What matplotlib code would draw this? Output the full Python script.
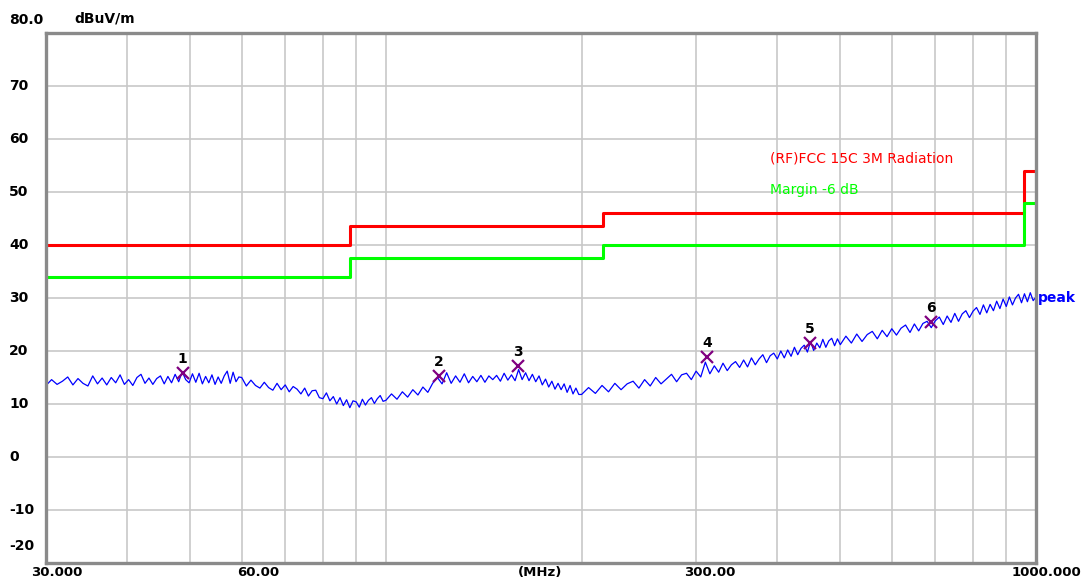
import numpy as np
import matplotlib
matplotlib.use('Agg')
import matplotlib.pyplot as plt
import matplotlib.transforms as mtransforms

plt.rcParams['font.family'] = ['DejaVu Sans']

# peak sweep (MHz, dBuV/m)
freq_a = [30.0, 30.6, 31.2, 31.8, 32.4, 33.0, 33.6, 34.2, 34.8, 35.4,
          36.0, 36.6, 37.2, 37.8, 38.4, 39.0, 39.6, 40.2, 40.8, 41.4,
          42.0, 42.6, 43.2, 43.8, 44.4, 45.0, 45.6, 46.2, 46.8, 47.4,
          48.0, 48.6, 49.2, 49.8, 50.4, 51.0, 51.6, 52.2, 52.8, 53.4,
          54.0, 54.6, 55.2, 55.8, 56.4, 57.0, 57.6, 58.2, 58.8, 59.4]
level_a = [13.5, 14.6, 13.7, 14.3, 15.1, 13.6, 14.8, 13.9, 13.4, 15.3,
           13.8, 14.9, 13.6, 15.0, 14.0, 15.5, 13.7, 14.6, 13.5, 15.0,
           15.6, 13.9, 14.9, 13.7, 14.8, 15.3, 13.8, 15.2, 14.0, 15.6,
           14.2, 16.1, 14.6, 14.0, 15.7, 14.1, 15.8, 13.8, 15.2, 14.0,
           15.5, 13.7, 15.1, 13.9, 15.3, 16.2, 13.9, 16.0, 14.2, 15.1]

freq_b = [60, 61, 62, 63, 64, 65, 66, 67, 68, 69,
          70, 71, 72, 73, 74, 75, 76, 77, 78, 79,
          80, 81, 82, 83, 84, 85, 86, 87, 88, 89,
          90, 91, 92, 93, 94, 95, 96, 97, 98, 99]
level_b = [15.0, 13.4, 14.5, 13.5, 13.0, 14.1, 13.1, 12.6, 13.9, 12.7,
           13.6, 12.3, 13.3, 12.8, 11.9, 13.0, 11.5, 12.5, 12.6, 11.2,
           11.0, 12.1, 10.6, 11.4, 10.0, 11.2, 9.7, 10.8, 9.3, 10.6,
           10.4, 9.4, 10.9, 9.8, 10.7, 11.2, 10.1, 11.0, 11.6, 10.5]

freq_c = [100, 102, 104, 106, 108, 110, 112, 114, 116, 118,
          120, 122, 124, 126, 128, 130, 132, 134, 136, 138,
          140, 142, 144, 146, 148, 150, 152, 154, 156, 158,
          160, 162, 164, 166, 168, 170, 172, 174, 176, 178,
          180, 182, 184, 186, 188, 190, 192, 194, 196, 198]
level_c = [10.7, 11.9, 10.9, 12.3, 11.3, 12.7, 11.7, 13.2, 12.2, 13.9,
           15.0, 13.8, 15.9, 13.9, 15.3, 14.1, 15.7, 14.0, 15.2, 14.2,
           15.4, 14.1, 15.3, 14.6, 15.4, 14.3, 15.8, 14.5, 15.5, 14.4,
           16.5, 14.6, 15.9, 14.4, 15.6, 14.2, 15.3, 13.6, 14.7, 13.2,
           14.3, 12.8, 13.9, 12.7, 13.8, 12.2, 13.5, 11.9, 13.0, 11.8]

freq_d = [200, 205, 210, 215, 220, 225, 230, 235, 240, 245,
          250, 255, 260, 265, 270, 275, 280, 285, 290, 295,
          300, 305, 310, 315, 320, 325, 330, 335, 340, 345,
          350, 355, 360, 365, 370, 375, 380, 385, 390, 395,
          400, 405, 410, 415, 420, 425, 430, 435, 440, 445,
          450, 455, 460, 465, 470, 475, 480, 485, 490, 495]
level_d = [11.8, 13.1, 12.0, 13.5, 12.3, 13.9, 12.7, 13.8, 14.3, 13.0,
           14.6, 13.4, 15.0, 13.8, 14.7, 15.6, 14.2, 15.5, 15.8, 14.6,
           16.2, 15.1, 17.9, 15.7, 17.2, 16.0, 17.7, 16.3, 17.4, 18.0,
           16.9, 18.3, 17.0, 18.7, 17.4, 18.5, 19.3, 17.8, 19.1, 19.6,
           18.5, 20.0, 18.7, 20.2, 19.0, 20.7, 19.3, 20.5, 21.1, 19.8,
           21.8, 20.1, 21.5, 20.6, 22.2, 20.7, 21.9, 22.4, 21.0, 22.3]

freq_e = [500, 510, 520, 530, 540, 550, 560, 570, 580, 590,
          600, 610, 620, 630, 640, 650, 660, 670, 680, 690,
          700, 710, 720, 730, 740, 750, 760, 770, 780, 790,
          800, 810, 820, 830, 840, 850, 860, 870, 880, 890,
          900, 910, 920, 930, 940, 950, 960, 970, 980, 990, 1000]
level_e = [21.2, 22.8, 21.5, 23.2, 21.8, 23.1, 23.7, 22.3, 23.9, 22.7,
           24.2, 23.0, 24.3, 24.9, 23.5, 25.1, 23.8, 25.2, 25.6, 24.4,
           25.7, 26.4, 25.0, 26.6, 25.4, 27.1, 25.6, 27.0, 27.6, 26.3,
           27.5, 28.2, 26.9, 28.7, 27.2, 28.8, 27.6, 29.4, 28.0, 29.8,
           28.4, 30.2, 28.7, 30.0, 30.7, 29.1, 30.8, 29.3, 31.0, 29.5, 30.2]

# FCC 15C 3m limit and -6 dB margin
limit_freq = [30, 88, 216, 960, 1000]
limit_level = [40.0, 43.5, 46.0, 54.0, 54.0]
margin_level = [34.0, 37.5, 40.0, 48.0, 48.0]

# marked peaks
mark_no = ['1', '2', '3', '4', '5', '6']
mark_freq = [48.7, 120.7, 159.7, 312.0, 449.0, 689.0]
mark_level = [15.9, 15.3, 17.2, 18.9, 21.5, 25.5]

y_ticks = [70, 60, 50, 40, 30, 20, 10, 0, -10]
x_grid = [40, 50, 60, 70, 80, 90, 100, 200, 300, 400, 500, 600, 700, 800, 900]

freq = freq_a + freq_b + freq_c + freq_d + freq_e
level = level_a + level_b + level_c + level_d + level_e

W, H = 1083, 580
fig = plt.figure(figsize=(W / 100, H / 100), dpi=100)
ax = fig.add_axes([46 / W, 1 - 563 / H, 990 / W, 530 / H])
ax.set_xscale('log')
ax.set_xlim(30, 1000)
ax.set_ylim(-20, 80)
ax.set_xticks([])
ax.set_yticks([])
ax.minorticks_off()

for v in y_ticks:
    ax.axhline(v, color='#c8c8c8', lw=1.2, zorder=0)
for f in x_grid:
    ax.axvline(f, color='#c8c8c8', lw=1.2, zorder=0)
for s in ax.spines.values():
    s.set_color('#8a8a8a')
    s.set_linewidth(2.4)

ax.step(limit_freq, limit_level, where='post', color='#ff0000', lw=2.2)
ax.step(limit_freq, margin_level, where='post', color='#00ff00', lw=2.2)
ax.plot(freq, level, color='#0000ff', lw=0.9)

ax.plot(mark_freq, mark_level, 'x', color='#800080', ms=8, mew=1.6)
for n, f, v in zip(mark_no, mark_freq, mark_level):
    ax.annotate(n, (f, v), xytext=(0, 5), textcoords='offset points',
                ha='center', va='bottom', fontsize=10, fontweight='bold')

# y labels
trans = mtransforms.blended_transform_factory(fig.transFigure, ax.transData)
for v in y_ticks:
    ax.text(9 / W, v, str(v), transform=trans, ha='left', va='center',
            fontsize=10, fontweight='bold')
fig.text(9 / W, 1 - 20 / H, '80.0', ha='left', va='center', fontsize=10, fontweight='bold')
fig.text(9 / W, 1 - 546 / H, '-20', ha='left', va='center', fontsize=10, fontweight='bold')
fig.text(74 / W, 1 - 18 / H, 'dBuV/m', ha='left', va='center', fontsize=10, fontweight='bold')

# x labels along the bottom edge
for xp, t in [(57, '30.000'), (258, '60.00'), (540, '(MHz)'), (710, '300.00')]:
    fig.text(xp / W, 1 - 566 / H, t, ha='center', va='top', fontsize=9.5, fontweight='bold')
fig.text(1081 / W, 1 - 566 / H, '1000.000', ha='right', va='top', fontsize=9.5, fontweight='bold')

fig.text(770 / W, 1 - 158 / H, '(RF)FCC 15C 3M Radiation', color='#ff0000',
         ha='left', va='center', fontsize=10)
fig.text(770 / W, 1 - 190 / H, 'Margin -6 dB', color='#00ff00',
         ha='left', va='center', fontsize=10)
fig.text(1038 / W, 1 - 298 / H, 'peak', color='#0000ff',
         ha='left', va='center', fontsize=10, fontweight='bold')

plt.savefig('out.png', dpi=100)
